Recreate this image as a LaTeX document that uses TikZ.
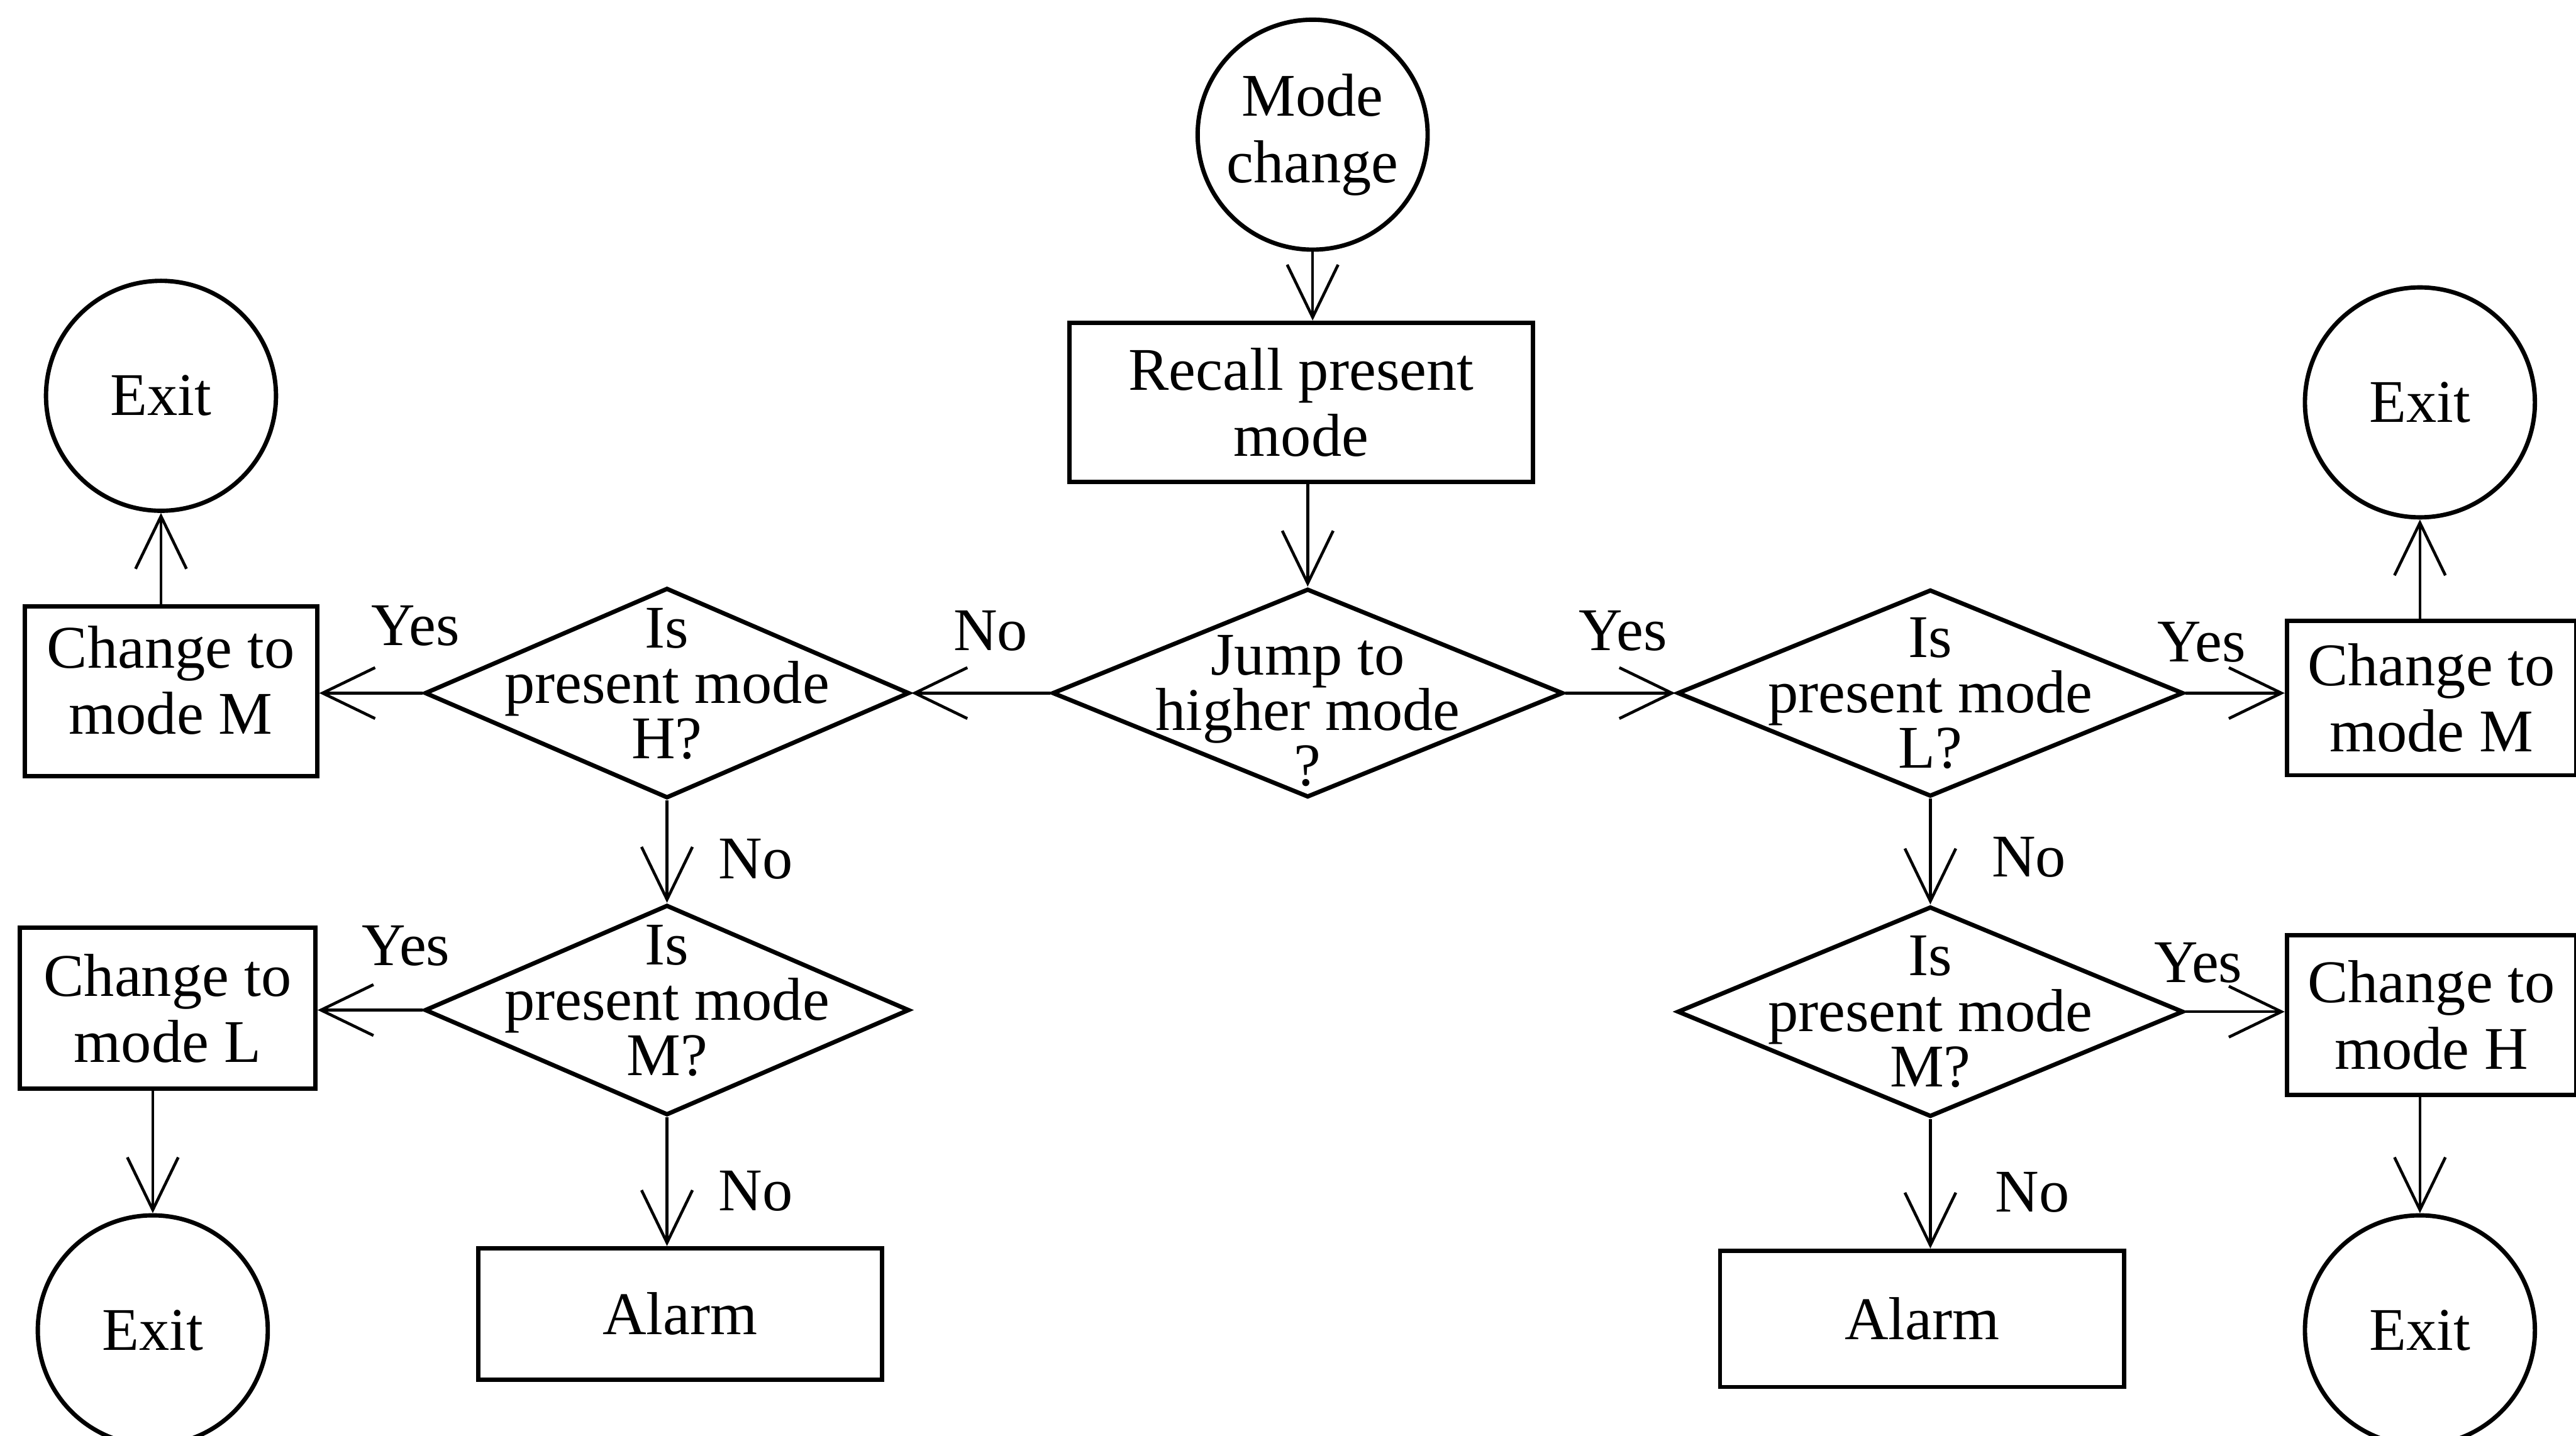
\documentclass[tikz,border=0pt]{standalone}
\usepackage{fontspec}
\setmainfont{Liberation Serif}
\usepackage{tikz}
\usetikzlibrary{arrows.meta,shapes.geometric}
\newcommand{\boxfont}{\fontsize{10.5}{11.5}\selectfont}
\newcommand{\askfont}{\fontsize{10.5}{9.6}\selectfont\lineskiplimit=-5pt}
\newcommand{\upto}[1]{\rule{0pt}{#1}}
\newcommand{\downto}[1]{\rule[-#1]{0pt}{0pt}}
\tikzstyle{term} = [circle, draw, line width=0.75pt, inner sep=0pt, minimum size=14mm, align=center, font=\boxfont]
\tikzstyle{proc} = [rectangle, draw, line width=0.75pt, align=center, font=\boxfont]
\tikzstyle{ask} = [diamond, draw, line width=0.75pt, aspect=2.3, inner sep=-3mm, align=center, font=\askfont]
\tikzstyle{yn} = [anchor=base, inner sep=0pt, font=\boxfont]

\begin{document}
\begin{tikzpicture}[->,>={Straight Barb[length=3.2mm,width=3.1mm]},line width=0.5pt,x=0.1mm,y=-0.1mm]
  \useasboundingbox (0,0) rectangle (1568,874);
  \clip (0,0) rectangle (1568,874);

  \node[term] (start) at (799,82) {Mode\\change};
  \node[proc, minimum width=28.2mm, minimum height=9.7mm] (recall) at (792,245) {Recall present\\mode};
  \node[ask, minimum width=31.1mm, minimum height=12.7mm] (jump) at (796,422) {\upto{4.6mm}Jump to\\higher mode\\?};

  % left branch: No
  \node[ask, minimum width=29.5mm, minimum height=12.8mm] (isH) at (406,422) {Is\\present mode\\H?\downto{1.2mm}};
  \node[ask, minimum width=29.5mm, minimum height=12.8mm] (isM1) at (406,615) {Is\\present mode\\M?\downto{1.2mm}};
  \node[proc, minimum width=17.8mm, minimum height=9.6mm] (chM1) at (104,421) {Change to\\mode M\downto{1.4mm}};
  \node[term] (exit1) at (98,241) {Exit};
  \node[proc, minimum width=18mm, minimum height=9.8mm] (chL) at (102,614) {Change to\\mode L};
  \node[term] (exit2) at (93,810) {Exit};
  \node[proc, minimum width=24.6mm, minimum height=8mm] (alarm1) at (414,800) {Alarm};

  % right branch: Yes
  \node[ask, minimum width=30.8mm, minimum height=12.6mm] (isL) at (1175,422) {Is\\present mode\\L?};
  \node[ask, minimum width=30.8mm, minimum height=12.8mm] (isM2) at (1175,616) {Is\\present mode\\M?};
  \node[proc, minimum width=17.6mm, minimum height=9.4mm] (chM2) at (1480,425) {Change to\\mode M};
  \node[term] (exit3) at (1473,245) {Exit};
  \node[proc, minimum width=17.6mm, minimum height=9.7mm] (chH) at (1480,618) {Change to\\mode H};
  \node[term] (exit4) at (1473,810) {Exit};
  \node[proc, minimum width=24.6mm, minimum height=8.3mm] (alarm2) at (1170,803) {Alarm};

  \node[yn] (y1) at (253,393) {Yes};
  \node[yn] (n1) at (603,396) {No};
  \node[yn] (n2) at (460,535) {No};
  \node[yn] (y2) at (247,588) {Yes};
  \node[yn] (n3) at (460,737) {No};
  \node[yn] (y3) at (988,396) {Yes};
  \node[yn] (y4) at (1340,403) {Yes};
  \node[yn] (n4) at (1235,534) {No};
  \node[yn] (y5) at (1338,598) {Yes};
  \node[yn] (n5) at (1237,738) {No};

  \path (start) edge (start |- recall.north);
  \path (recall.south -| jump) edge (jump);
  \path (jump) edge (isH);
  \path (isH) edge (isH -| chM1.east);
  \path (chM1.north -| exit1) edge (exit1);
  \path (isH) edge (isM1);
  \path (isM1) edge (isM1 -| chL.east);
  \path (isM1) edge (isM1 |- alarm1.north);
  \path (chL.south -| exit2) edge (exit2);
  \path (jump) edge (isL);
  \path (isL) edge (isL -| chM2.west);
  \path (isL) edge (isM2);
  \path (isM2) edge (isM2 -| chH.west);
  \path (isM2) edge (isM2 |- alarm2.north);
  \path (chM2.north -| exit3) edge (exit3);
  \path (chH.south -| exit4) edge (exit4);
\end{tikzpicture}
\end{document}
